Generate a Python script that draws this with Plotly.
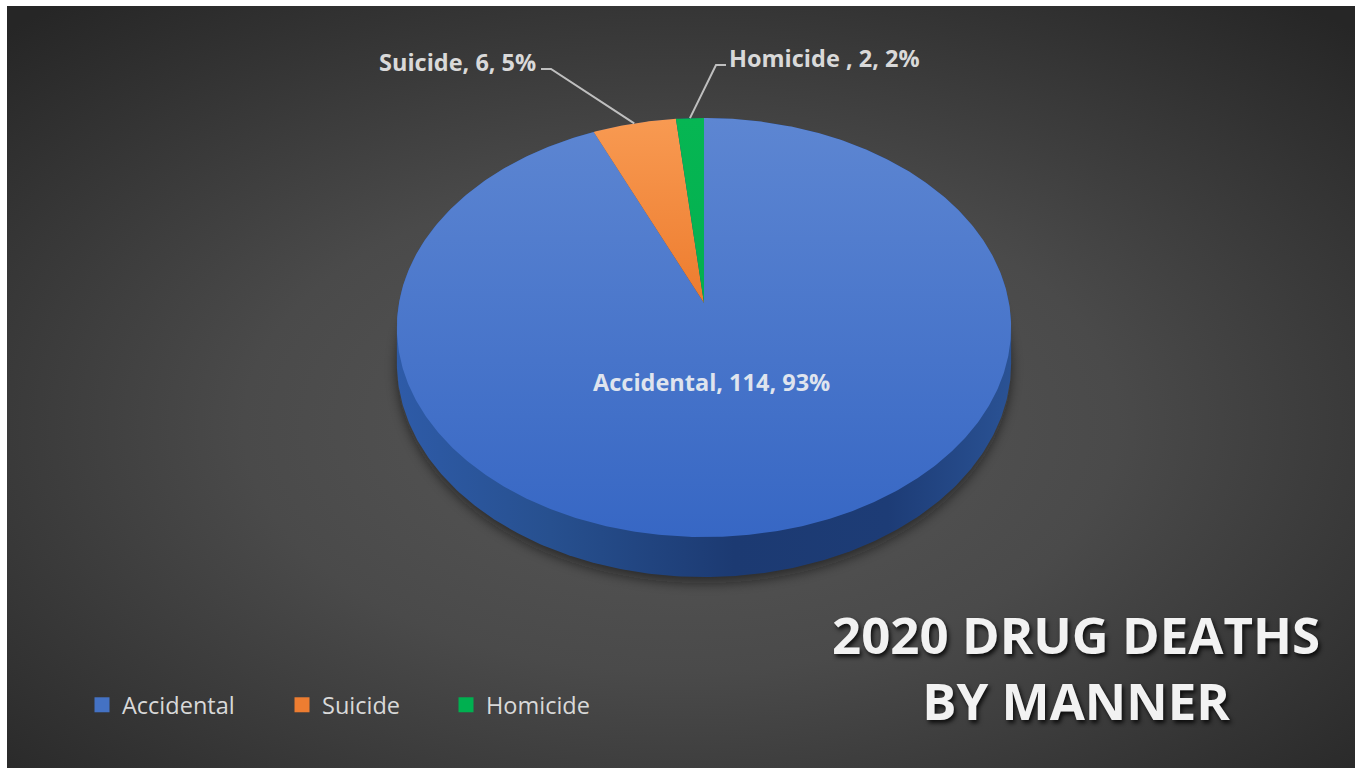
import base64
import numpy as np
import plotly.graph_objects as go

# ---------------- data ----------------
categories = ["Accidental", "Suicide", "Homicide"]
label_names = ["Accidental", "Suicide", "Homicide "]
deaths = [114, 6, 2]
title_lines = ["2020 DRUG DEATHS", "BY MANNER"]

# ---------------- style / geometry ----------------
W, H = 1357, 768
CX, CY = 704, 303          # projected pie centre (apex)
RX, RY = 305, 206.7        # disc radii
PERSP = 0.117              # perspective factor (far side smaller)
THICK = 35.3               # side depth
FONT = "Open Sans"
LABEL_COLOR = "#d9d9d9"

legend_colors = ["#4472c4", "#ed7d31", "#00b050"]
face_scales = [
    [[0, "#5d86d2"], [1, "#3767c4"]],
    [[0, "#f89a52"], [0.45, "#ed7b2d"], [1, "#e86f1c"]],
    [[0, "#06b653"], [1, "#00a84a"]],
]
side_scale = [[0, "#2e5ba8"], [0.25, "#27508f"], [0.55, "#1c3a72"],
              [0.8, "#1d3c76"], [1, "#2a5294"]]


def proj(theta_deg, r=1.0):
    th = np.radians(theta_deg)
    u = r * np.sin(th)
    w = r * np.cos(th)
    s = 1.0 / (1.0 + PERSP * w)
    return CX + RX * u * s, CY - RY * w * s, s


total = sum(deaths)
fracs = [d / total for d in deaths]
bounds = np.concatenate([[0], np.cumsum(fracs) * 360])

fig = go.Figure()

# ---- side of the 3D pie (hull of top rim far arc + bottom rim near arc) ----
th_l = 360 - np.degrees(np.arccos(-PERSP))
th_r = np.degrees(np.arccos(-PERSP))
far = np.linspace(th_l, th_r + 360, 240)
near = np.linspace(th_r, th_l, 240)
fx, fy, _ = proj(far)
nx, ny, ns = proj(near)
ny = ny + THICK * ns
sx = np.concatenate([fx, nx, fx[:1]])
sy = np.concatenate([fy, ny, fy[:1]])
fig.add_trace(go.Scatter(
    x=sx, y=sy, mode="lines", fill="toself", line=dict(width=0),
    fillgradient=dict(type="horizontal", colorscale=side_scale,
                      start=float(sx.min()), stop=float(sx.max())),
    showlegend=False, hoverinfo="skip"))

# ---- top face wedges ----
top_y = float(proj(0)[1])
bot_y = float(proj(180)[1])
for i, cat in enumerate(categories):
    a0, a1 = bounds[i], bounds[i + 1]
    n = max(int((a1 - a0) * 2), 8)
    arc = np.linspace(a0, a1, n)
    ax_, ay_, _ = proj(arc)
    wx = np.concatenate([[CX], ax_, [CX]])
    wy = np.concatenate([[CY], ay_, [CY]])
    fig.add_trace(go.Scatter(
        x=wx, y=wy, mode="lines", fill="toself", line=dict(width=0),
        fillgradient=dict(type="vertical", colorscale=face_scales[i],
                          start=top_y, stop=bot_y),
        showlegend=False, hoverinfo="skip", name=cat))

# ---- data labels ----
pct = [f"{round(f * 100)}%" for f in fracs]
texts = [f"{label_names[i]}, {deaths[i]}, {pct[i]}" for i in range(3)]

annotations = []
# inside label (Accidental)
annotations.append(dict(x=711, y=382, xref="x", yref="y", text=f"<b>{texts[0]}</b>",
                        showarrow=False, xanchor="center", yanchor="middle",
                        font=dict(family=FONT, size=23.5, color="#dfe4ee")))
# outside labels with leader lines
out_pos = {1: dict(x=538, y=62, xanchor="right", lx=[541, 551]),
           2: dict(x=727, y=58, xanchor="left", lx=[726, 716])}
for i, p in out_pos.items():
    annotations.append(dict(x=p["x"], y=p["y"], xref="x", yref="y", text=f"<b>{texts[i]}</b>",
                            showarrow=False, xanchor=p["xanchor"], yanchor="middle",
                            font=dict(family=FONT, size=23.5, color=LABEL_COLOR)))
    mid = (bounds[i] + bounds[i + 1]) / 2
    rx_, ry_, _ = proj(mid)
    ly = p["y"] + 7
    fig.add_trace(go.Scatter(x=[p["lx"][0], p["lx"][1], float(rx_)],
                             y=[ly, ly, float(ry_)], mode="lines",
                             line=dict(color="#bfbfbf", width=2),
                             showlegend=False, hoverinfo="skip"))

# ---- title ----
annotations.append(dict(x=1076, y=667, xref="x", yref="y",
                        text="<br>".join(f"<b>{t}</b>" for t in title_lines),
                        showarrow=False, xanchor="center", yanchor="middle", align="center",
                        font=dict(family=FONT, size=51, color="#f2f2f2",
                                  shadow="2px 3px 4px rgba(0,0,0,0.8)")))

# ---- legend (three single-item legends) ----
legend_x = [82, 282, 446]
legend_names = ["legend", "legend2", "legend3"]
for i, cat in enumerate(categories):
    fig.add_trace(go.Scatter(x=[None], y=[None], mode="markers", name=cat,
                             marker=dict(symbol="square", size=15, color=legend_colors[i]),
                             legend=legend_names[i], showlegend=True))

legend_common = dict(yanchor="middle", y=1 - 705 / H, xanchor="left",
                     bgcolor="rgba(0,0,0,0)", borderwidth=0,
                     font=dict(family=FONT, size=23.5, color=LABEL_COLOR),
                     itemwidth=30)

# ---- background image (radial gradient + soft shadow) ----
shadow_cx = CX
shadow_top = top_y + THICK
shadow_bot = bot_y + THICK * proj(180)[2] + 6
svg = f'''<svg xmlns="http://www.w3.org/2000/svg" width="{W}" height="{H}" viewBox="0 0 {W} {H}" preserveAspectRatio="none">
<defs>
<radialGradient id="g" cx="0.5" cy="0.55" r="0.72">
<stop offset="0" stop-color="#585858"/>
<stop offset="0.45" stop-color="#4a4a4a"/>
<stop offset="0.8" stop-color="#333333"/>
<stop offset="1" stop-color="#262626"/>
</radialGradient>
<filter id="b" x="-30%" y="-30%" width="160%" height="160%"><feGaussianBlur stdDeviation="6"/></filter>
</defs>
<rect width="{W}" height="{H}" fill="#ffffff"/>
<rect x="7" y="6" width="{W - 9}" height="{H - 6}" fill="url(#g)"/>
<ellipse cx="{shadow_cx}" cy="{(shadow_top + shadow_bot) / 2:.1f}" rx="{RX + 2}" ry="{(shadow_bot - shadow_top) / 2:.1f}" fill="#111111" opacity="0.55" filter="url(#b)"/>
</svg>'''
src = "data:image/svg+xml;base64," + base64.b64encode(svg.encode()).decode()

fig.update_layout(
    width=W, height=H, margin=dict(l=0, r=0, t=0, b=0),
    paper_bgcolor="#ffffff", plot_bgcolor="rgba(0,0,0,0)",
    xaxis=dict(range=[0, W], visible=False, fixedrange=True),
    yaxis=dict(range=[H, 0], visible=False, fixedrange=True),
    images=[dict(source=src, xref="paper", yref="paper", x=0, y=1, sizex=1, sizey=1,
                 xanchor="left", yanchor="top", sizing="stretch", layer="below")],
    annotations=annotations,
    legend=dict(x=legend_x[0] / W, **legend_common),
    legend2=dict(x=legend_x[1] / W, **legend_common),
    legend3=dict(x=legend_x[2] / W, **legend_common),
    hovermode=False,
)

fig.write_html("out.html", config={"displayModeBar": False},
               post_script="document.body.style.margin='0px';document.body.style.overflow='hidden';")
